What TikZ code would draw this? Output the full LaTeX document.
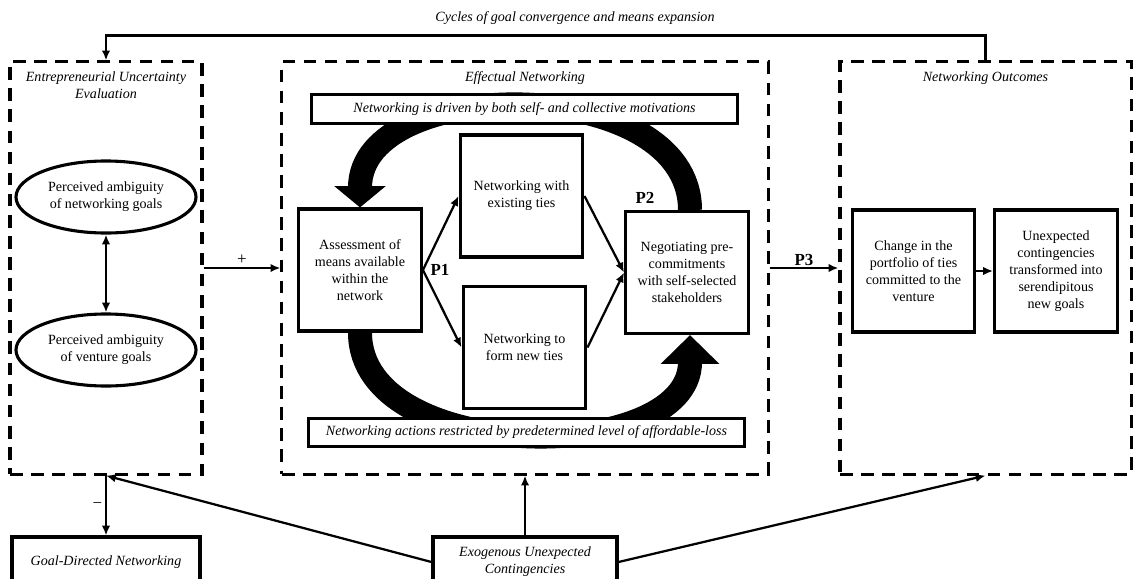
\documentclass[tikz,border=0pt]{standalone}
\usepackage{fontspec}
\setmainfont{Liberation Serif}
\usepackage{tikz}
\usetikzlibrary{arrows.meta}
\usetikzlibrary{positioning}
\usetikzlibrary{shapes.geometric}
\pgfdeclarelayer{background}
\pgfsetlayers{background,main}
\tikzset{
    block/.style={
           rectangle,
           draw=black, line width=2.2pt,
           fill=white,
           minimum width=3.07cm,
           minimum height=3.05cm,
           inner sep=2pt,
           align=center,
           },
    banner/.style={
           rectangle,
           draw=black, line width=2.2pt,
           fill=white,
           minimum height=0.72cm,
           inner sep=2pt,
           font=\itshape,
           },
    region/.style={
           rectangle,
           draw=black, line width=2.2pt,
           dash pattern=on 9pt off 6pt,
           },
    oval/.style={
           ellipse,
           draw=black, line width=2.2pt,
           minimum width=4.5cm,
           minimum height=1.8cm,
           inner sep=1pt,
           align=center,
           },
    link/.style={->, draw=black, line width=1.6pt},
    heading/.style={font=\itshape, align=center, inner sep=1pt},
    plabel/.style={font=\large\bfseries, inner sep=1pt},
    sign/.style={font=\large, inner sep=2pt},
    band/.style={line width=0.6cm},
}

\begin{document}
\begin{tikzpicture}[x=0.025cm,y=-0.025cm,>={Latex[length=7pt,width=6pt]},
                    every edge/.style={link}]
 \useasboundingbox (0,0) rectangle (1133,579);

 % the three dashed regions
 \node[region, minimum width=4.8cm, minimum height=10.3cm] (euv) at (106,268) {};
 \node[region, minimum width=12.15cm, minimum height=10.3cm] (eff) at (525,268) {};
 \node[region, minimum width=7.275cm, minimum height=10.3cm] (out) at (985.5,268) {};

 % region titles, just under the top edge
 \node[heading, below=0.25cm of euv.north] {Entrepreneurial Uncertainty\\Evaluation};
 \node[heading, below=0.25cm of eff.north] {Effectual Networking};
 \node[heading, below=0.25cm of out.north] {Networking Outcomes};

 % uncertainty evaluation: the two ellipses
 \node[oval] (goals) at (106,197) {Perceived ambiguity\\of networking goals};
 \node[oval] (venture) at (106,350) {Perceived ambiguity\\of venture goals};

 % effectual networking: banners and process boxes
 \node[banner, minimum width=10.625cm] (drive) at (524.5,109)
 {Networking is driven by both self- and collective motivations};
 \node[banner, minimum width=10.875cm] (loss) at (526.5,432.5)
 {Networking actions restricted by predetermined level of affordable-loss};

 \node[block] (assess) at (360,270) {Assessment of\\means available\\within the\\network};
 \node[block] (exist) at (521.5,196) {Networking with\\existing ties};
 \node[block] (new) at (524.5,347.5) {Networking to\\form new ties};
 \node[block] (nego) at (687,272.5) {Negotiating pre-\\commitments\\with self-selected\\stakeholders};

 \node[plabel, right=0.15cm of assess] (p1) {P1};
 \node[plabel] (p2) at (645,198) {P2};

 % networking outcomes
 \node[block] (change) at (913.5,271) {Change in the\\portfolio of ties\\committed to the\\venture};
 \node[block] (serend) at (1056,271) {Unexpected\\contingencies\\transformed into\\serendipitous\\new goals};

 % bottom row
 \node[block, font=\itshape, minimum width=4.7cm, minimum height=1.25cm] (gdn) at (106,562)
 {Goal-Directed Networking};
 \node[block, font=\itshape, minimum width=4.6cm, minimum height=1.25cm] (exo) at (525,562)
 {Exogenous Unexpected\\Contingencies};

 % big loop arrows, behind the boxes and banners
 \begin{pgfonlayer}{background}
 \draw[band, -{Triangle[width=1.25cm,length=0.53cm]}]
   ([xshift=0.075cm]nego.north) .. controls +(0,-137) and +(0,-134) .. (assess.north);
 \draw[band, -{Triangle[width=1.42cm,length=0.72cm]}]
   (assess.south) .. controls +(0,133) and +(0,131) .. ([xshift=0.075cm]nego.south);
 \end{pgfonlayer}

 % draw the paths and print the signs next to them
 \path (goals) edge[<->] (venture)
       (euv)   edge node[above, sign] {+} (eff)
       (eff)   edge node[above, plabel] {P3} (out)
       (assess.east) edge (exist.west)
       (assess.east) edge (new.west)
       (exist.east)  edge (nego.west)
       (new.east)    edge (nego.west)
       (change) edge (serend)
       (euv.south) edge node[left, sign] {−} (gdn.north)
       (exo.north) edge (eff.south)
       (exo.west)  edge (euv.south)
       (exo.east)  edge (out.south)
 ;

 % feedback loop over the top
 \draw[link] (out.north) -- ++(0,-25) -| (euv.north);
 \node[heading] (cycles) at (575,18) {Cycles of goal convergence and means expansion};
\end{tikzpicture}
\end{document}
